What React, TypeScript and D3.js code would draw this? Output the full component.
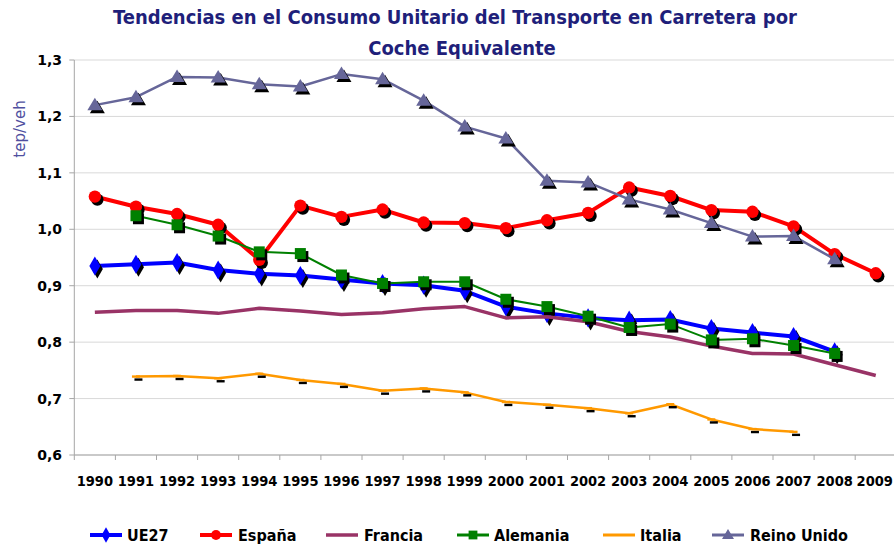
import React from "react";
import * as d3 from "d3";

const years = ["1990","1991","1992","1993","1994","1995","1996","1997","1998","1999","2000","2001","2002","2003","2004","2005","2006","2007","2008","2009"];
const yTicks = [0.6, 0.7, 0.8, 0.9, 1.0, 1.1, 1.2, 1.3];

type V = number | null;
const ue27: V[] = [0.935,0.938,0.941,0.928,0.921,0.918,0.911,0.904,0.901,0.891,0.863,0.851,0.843,0.839,0.840,0.824,0.817,0.810,0.783,null];
const espana: V[] = [1.058,1.040,1.027,1.008,0.946,1.042,1.022,1.035,1.012,1.011,1.002,1.016,1.029,1.074,1.059,1.034,1.031,1.005,0.956,0.922];
const francia: V[] = [0.853,0.856,0.856,0.851,0.860,0.855,0.849,0.852,0.859,0.863,0.843,0.845,0.836,0.819,0.809,0.793,0.780,0.779,0.760,0.741];
const alemania: V[] = [null,1.024,1.008,0.988,0.960,0.957,0.919,0.904,0.907,0.907,0.876,0.863,0.846,0.826,0.832,0.804,0.806,0.794,0.780,null];
const italia: V[] = [null,0.739,0.740,0.736,0.744,0.733,0.726,0.714,0.718,0.711,0.694,0.689,0.683,0.674,0.690,0.663,0.646,0.641,null,null];
const reinoUnido: V[] = [1.220,1.234,1.270,1.269,1.257,1.253,1.275,1.266,1.228,1.182,1.161,1.086,1.083,1.053,1.035,1.011,0.987,0.988,0.947,null];

type Marker = "diamond" | "circle" | "none" | "square" | "dash" | "triangle";
const series: { name: string; values: V[]; color: string; width: number; marker: Marker }[] = [
  { name: "UE27", values: ue27, color: "#0000FF", width: 4, marker: "diamond" },
  { name: "España", values: espana, color: "#FF0000", width: 4, marker: "circle" },
  { name: "Francia", values: francia, color: "#993366", width: 3.5, marker: "none" },
  { name: "Alemania", values: alemania, color: "#008000", width: 2, marker: "square" },
  { name: "Italia", values: italia, color: "#FF9900", width: 2.5, marker: "dash" },
  { name: "Reino Unido", values: reinoUnido, color: "#666699", width: 2.5, marker: "triangle" },
];

const W = 894, H = 546;
const left = 74.3, right = 896.3, top = 60, bottom = 455;
const FONT = "'DejaVu Sans Condensed', 'DejaVu Sans', sans-serif";

function markerPath(m: Marker): string | null {
  switch (m) {
    case "diamond": return d3.symbol(d3.symbolDiamond, 105)();
    case "circle": return d3.symbol(d3.symbolCircle, 120)();
    case "square": return "M-5.5,-5.5H5.5V5.5H-5.5Z";
    case "triangle": return "M0,-7.5L7.5,5L-7.5,5Z";
    case "dash": return "M-4,-1.2H4V1.2H-4Z";
    default: return null;
  }
}

export default function App() {
  const x = d3.scaleBand<string>().domain(years).range([left, right]);
  const y = d3.scaleLinear().domain([0.6, 1.3]).range([bottom, top]);
  const cx = (yr: string) => (x(yr) as number) + x.bandwidth() / 2;

  const line = d3.line<[string, V]>()
    .defined(d => d[1] !== null)
    .x(d => cx(d[0]))
    .y(d => y(d[1] as number));

  const legendItems = [
    { lx: 90, tx: 127 },
    { lx: 200, tx: 238 },
    { lx: 326, tx: 364 },
    { lx: 457, tx: 494 },
    { lx: 603, tx: 640 },
    { lx: 712, tx: 750 },
  ];
  const legendY = 535;

  return (
    <svg width={W} height={H} style={{ position: "absolute", left: 0, top: 0, background: "#fff" }} fontFamily={FONT}>
      <rect x={0} y={0} width={W} height={H} fill="#fff" />
      <text x={455} y={24} textAnchor="middle" fontSize={20} fontWeight="bold" fill="#1F1F7A">
        Tendencias en el Consumo Unitario del Transporte en Carretera por
      </text>
      <text x={462} y={55} textAnchor="middle" fontSize={20} fontWeight="bold" fill="#1F1F7A">
        Coche Equivalente
      </text>

      {yTicks.map(t => (
        <line key={"g" + t} x1={left} x2={right} y1={y(t)} y2={y(t)} stroke="#D9D9D9" strokeWidth={1} />
      ))}
      <line x1={left} x2={left} y1={top} y2={bottom} stroke="#A6A6A6" />
      <line x1={left} x2={right} y1={bottom} y2={bottom} stroke="#A6A6A6" />
      {yTicks.map(t => (
        <g key={"yt" + t}>
          <line x1={left - 5} x2={left} y1={y(t)} y2={y(t)} stroke="#A6A6A6" />
          <text x={62} y={y(t) + 5} textAnchor="end" fontSize={14} fontWeight="bold" fill="#000" fontFamily="'DejaVu Sans', sans-serif">
            {d3.format(".1f")(t).replace(".", ",")}
          </text>
        </g>
      ))}
      {[...years.map(yr => x(yr) as number), right].map((px, i) => (
        <line key={"xt" + i} x1={px} x2={px} y1={bottom} y2={bottom + 5} stroke="#A6A6A6" />
      ))}
      {years.map(yr => (
        <text key={"xl" + yr} x={cx(yr) - (yr === "2009" ? 1 : 0)} y={486} textAnchor="middle" fontSize={14.5} fontWeight="bold" fill="#000">
          {yr}
        </text>
      ))}
      <text transform={`translate(25,129) rotate(-90)`} textAnchor="middle" fontSize={15} fill="#4F4FA0" fontFamily="'DejaVu Sans', sans-serif">
        tep/veh
      </text>

      {series.map(s => {
        const pairs = years.map((yr, i) => [yr, s.values[i]] as [string, V]);
        const mp = markerPath(s.marker);
        return (
          <g key={s.name}>
            <path d={line(pairs) || ""} fill="none" stroke={s.color} strokeWidth={s.width} strokeLinejoin="round" />
            {mp && pairs.filter(p => p[1] !== null).map(p => (
              <g key={p[0]}>
                <path d={mp} transform={`translate(${cx(p[0]) + 2.5},${y(p[1] as number) + 3})`} fill="#000" />
                <path d={mp} transform={`translate(${cx(p[0])},${y(p[1] as number)})`} fill={s.color} />
              </g>
            ))}
          </g>
        );
      })}

      {series.map((s, i) => {
        const it = legendItems[i];
        const mp = markerPath(s.marker);
        return (
          <g key={"lg" + s.name}>
            <line x1={it.lx} x2={it.lx + 32} y1={legendY} y2={legendY} stroke={s.color} strokeWidth={Math.max(s.width, 3)} />
            {mp && <path d={mp} transform={`translate(${it.lx + 16},${legendY}) scale(0.8)`} fill={s.color} />}
            <text x={it.tx} y={legendY + 6} fontSize={16} fontWeight="bold" fill="#000">{s.name}</text>
          </g>
        );
      })}
    </svg>
  );
}
